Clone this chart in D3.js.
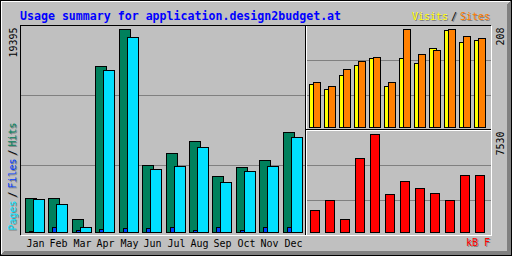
<!DOCTYPE html>
<html>
<head>
<meta charset="utf-8">
<script src="https://cdnjs.cloudflare.com/ajax/libs/d3/7.8.5/d3.min.js"></script>
<style>
  body { margin: 0; background: #c0c0c0; }
  svg { display: block; }
  text { font-family: "DejaVu Sans Mono", monospace; font-size: 10px; }
</style>
</head>
<body>
<div id="chart"></div>
<script>
// --- data ---
const title = "Usage summary for application.design2budget.at";
const months = ["Jan", "Feb", "Mar", "Apr", "May", "Jun", "Jul", "Aug", "Sep", "Oct", "Nov", "Dec"];
const hits   = [3220, 3220, 1210, 15860, 19395, 6400, 7520, 8690, 5320, 6210, 6850, 9530];
const files  = [95, 480, 190, 290, 380, 380, 480, 190, 480, 190, 480, 480];
const pages  = [3120, 2680, 480, 15480, 18630, 6020, 6310, 8120, 4750, 5830, 6310, 9050];
const visits = [91, 81, 110, 132, 146, 87, 146, 136, 167, 206, 180, 185];
const sites  = [96, 87, 123, 140, 149, 96, 208, 155, 163, 208, 193, 189];
const kbytes = [1670, 2440, 980, 5660, 7530, 2900, 3900, 3360, 2970, 2440, 4360, 4360];

const C = {
    grey: "#c0c0c0", dkgrey: "#808080", black: "#000", white: "#fff",
    title: "#0000ff", hit: "#00805c", file: "#0040ff", page: "#00e0ff",
    visit: "#ffff00", site: "#ff8000", kb: "#ff0000"
};

const W = 512, H = 256;
const svg = d3.select("#chart").append("svg")
    .attr("width", W).attr("height", H)
    .attr("shape-rendering", "crispEdges");

// pixel helpers (gd style, inclusive pixel coords)
const hline = (x1, x2, y, c) => svg.append("line")
    .attr("x1", x1).attr("x2", x2 + 1).attr("y1", y + 0.5).attr("y2", y + 0.5).attr("stroke", c);
const vline = (x, y1, y2, c) => svg.append("line")
    .attr("x1", x + 0.5).attr("x2", x + 0.5).attr("y1", y1).attr("y2", y2 + 1).attr("stroke", c);
const box = (x1, y1, x2, y2, fill) => svg.append("rect")
    .attr("x", x1 + 0.5).attr("y", y1 + 0.5)
    .attr("width", x2 - x1).attr("height", y2 - y1)
    .attr("fill", fill).attr("stroke", C.black);

svg.append("rect").attr("width", W).attr("height", H).attr("fill", C.grey);

// bevel border
hline(1, W - 2, 1, C.white);
vline(1, 1, H - 2, C.white);
for (let i = 1; i < 5; i++) {
    hline(i, W - 1 - i, H - 1 - i, C.dkgrey);
    vline(W - 1 - i, i, H - 1 - i, C.dkgrey);
}
svg.append("rect").attr("x", 0.5).attr("y", 0.5).attr("width", W - 1).attr("height", H - 1)
    .attr("fill", "none").attr("stroke", C.black);

// plot frame + sections
hline(20, 490, 25, C.black);
vline(20, 25, 234, C.black);
hline(21, 491, 235, C.white);
vline(491, 26, 235, C.white);
vline(305, 25, 234, C.black);
vline(306, 26, 234, C.white);
hline(305, 490, 129, C.black);
hline(307, 490, 130, C.white);

// scales
const xMain = d3.scaleBand().domain(months).range([25, 25 + 12 * 23.42]);
const yMain = d3.scaleLinear().domain([0, d3.max(hits)]).range([232, 29]);
const xRight = d3.scaleBand().domain(months).range([309, 309 + 12 * 15]);
const yTop = d3.scaleLinear().domain([0, d3.max(sites)]).range([127, 29]);
const yBot = d3.scaleLinear().domain([0, d3.max(kbytes)]).range([232, 134]);

// grid lines (thirds of each panel)
const gMain = d3.scaleLinear().domain([0, 3]).range([235, 25]);
const gTop = d3.scaleLinear().domain([0, 3]).range([130, 25]);
const gBot = d3.scaleLinear().domain([0, 3]).range([235, 130]);
[1, 2].forEach(k => {
    hline(21, 304, Math.round(gMain(k)), C.dkgrey);
    hline(307, 490, Math.round(gTop(k)), C.dkgrey);
    hline(307, 490, Math.round(gBot(k)), C.dkgrey);
});

// main bars: hits / files / pages
months.forEach((m, i) => {
    const x = Math.round(xMain(m));
    box(x, Math.round(yMain(hits[i])), x + 11, 232, C.hit);
    box(x + 4, Math.round(yMain(files[i])), x + 15, 232, C.file);
    box(x + 8, Math.round(yMain(pages[i])), x + 19, 232, C.page);
});

// visits / sites
months.forEach((m, i) => {
    const x = Math.round(xRight(m));
    box(x, Math.round(yTop(visits[i])), x + 7, 127, C.visit);
    box(x + 4, Math.round(yTop(sites[i])), x + 11, 127, C.site);
});

// kbytes
months.forEach((m, i) => {
    const x = Math.round(xRight(m));
    box(x + 1, Math.round(yBot(kbytes[i])), x + 10, 232, C.kb);
});

// texts
const txt = svg.append("g").attr("shape-rendering", "auto");

txt.append("text").attr("x", 20).attr("y", 20)
    .style("font-weight", "bold").style("font-size", "11.6px")
    .attr("fill", C.title).text(title);

txt.selectAll(".month").data(months).enter().append("text")
    .attr("class", "month")
    .attr("x", d => Math.round(xMain(d)) + 1.5)
    .attr("y", 247)
    .attr("fill", C.black)
    .text(d => d);

const up = (x, y, s, fill) => txt.append("text")
    .attr("transform", `translate(${x},${y}) rotate(-90)`)
    .attr("fill", fill).text(s);

up(17, 57.5, d3.max(hits), C.black);
up(504, 45.5, d3.max(sites), C.black);
up(504, 155.5, d3.max(kbytes), C.black);

// legends with shadow
const shadowText = (x, y, s, fill) => {
    txt.append("text").attr("x", x + 1).attr("y", y + 1).attr("fill", C.dkgrey).text(s);
    txt.append("text").attr("x", x).attr("y", y).attr("fill", fill).text(s);
};
const shadowUp = (x, y, s, fill) => {
    up(x + 1, y + 1, s, C.dkgrey);
    up(x, y, s, fill);
};

shadowText(412, 20, "Visits", C.visit);
shadowText(451, 20, "/", C.black);
shadowText(460, 20, "Sites", C.site);
shadowText(466, 246, "kB F", C.kb);

shadowUp(15.5, 230.5, "Pages", C.page);
shadowUp(15.5, 197.5, "/", C.black);
shadowUp(15.5, 188.5, "Files", C.file);
shadowUp(15.5, 155.5, "/", C.black);
shadowUp(15.5, 146.5, "Hits", C.hit);
</script>
</body>
</html>
